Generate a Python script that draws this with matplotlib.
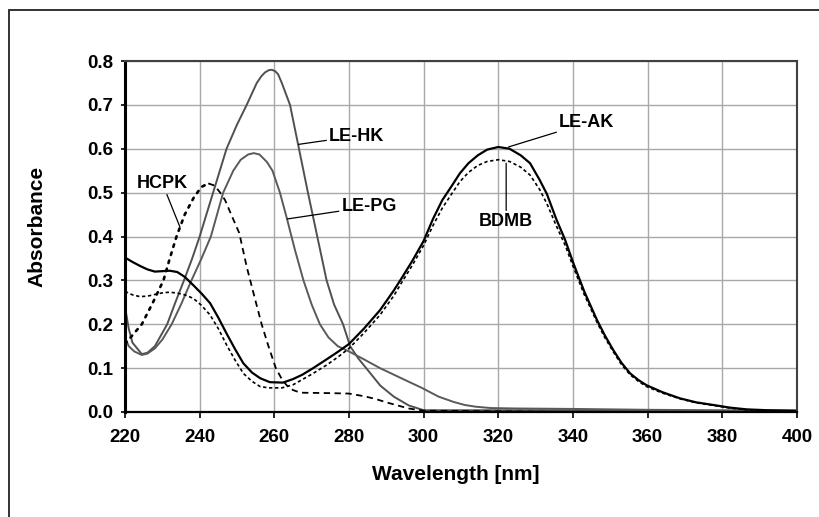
import matplotlib
matplotlib.use("Agg")
import matplotlib.pyplot as plt
from matplotlib.patches import Rectangle

# ---------------- data ----------------
le_hk_wl = [220, 221, 222, 224.5, 226, 228, 231.3, 233.5, 235.8, 238, 240, 243.6, 247.2, 250, 252.6,
            255.3, 256.5, 257.5, 258.5, 259.3, 260.2, 261, 262, 264.2, 266.6, 269, 271.5, 274, 276,
            278.4, 280.3, 282.5, 284.6, 288.4, 292, 296, 300, 320, 340, 360, 380, 400]
le_hk_abs = [0.24, 0.19, 0.158, 0.132, 0.135, 0.15, 0.2, 0.25, 0.3, 0.35, 0.4, 0.5, 0.6, 0.655, 0.7,
             0.75, 0.765, 0.774, 0.779, 0.78, 0.777, 0.77, 0.75, 0.7, 0.6, 0.5, 0.4, 0.3, 0.245,
             0.2, 0.15, 0.122, 0.1, 0.06, 0.035, 0.015, 0.004, 0.004, 0.004, 0.003, 0.002, 0.002]

le_pg_wl = [220, 221, 222.5, 224.5, 226, 228, 230, 232.5, 235, 237.8, 240.5, 243, 246.3, 249, 251,
            253, 254.5, 256, 258, 259.5, 261.5, 263.4, 265.5, 267.8, 270, 272.2, 274.5, 277, 280,
            284, 288.3, 294, 299.5, 304, 308, 311, 314, 318, 325, 340, 360, 400]
le_pg_abs = [0.17, 0.15, 0.138, 0.13, 0.133, 0.145, 0.165, 0.2, 0.245, 0.3, 0.35, 0.4, 0.5, 0.55, 0.575,
             0.587, 0.59, 0.587, 0.57, 0.55, 0.5, 0.44, 0.37, 0.3, 0.245, 0.2, 0.17, 0.15, 0.138,
             0.12, 0.1, 0.077, 0.055, 0.035, 0.023, 0.016, 0.012, 0.009, 0.008, 0.007, 0.005, 0.003]

hcpk_wl = [220, 222, 224.5, 227.5, 230.3, 232, 233.8, 236, 238.5, 240.5, 242.3, 244, 245.5, 246.8,
           248.7, 250.6, 252.6, 254.6, 256.6, 258.5, 260.4, 262, 263.3, 265, 267, 275, 280, 284,
           287, 290, 293, 296, 300, 340, 400]
hcpk_abs = [0.155, 0.175, 0.2, 0.25, 0.3, 0.35, 0.4, 0.45, 0.49, 0.513, 0.521, 0.516, 0.5, 0.483,
            0.445, 0.408, 0.331, 0.265, 0.2, 0.148, 0.1, 0.075, 0.061, 0.05, 0.044, 0.043, 0.042, 0.036,
            0.03, 0.022, 0.015, 0.008, 0.003, 0.0, 0.0]
hcpk_peak_index = 10

le_ak_wl = [220, 222, 224, 226, 228, 230, 232, 234, 236, 238.3, 240.5, 242.8, 245, 247.2, 249.5,
            251.7, 254, 256.2, 258.8, 262.3, 265, 267.5, 270.4, 274, 277, 280, 284, 288.3, 292,
            294.1, 297, 300, 302.5, 305, 307.5, 309.7, 312, 314.5, 317, 320, 323, 326, 328.5, 331,
            333, 335.5, 337.9, 340.1, 343, 346.4, 348.5, 350.8, 353, 355.3, 357.5, 359.7, 364,
            368.7, 373, 377.6, 382, 386.5, 392, 400]
le_ak_abs = [0.352, 0.342, 0.333, 0.325, 0.32, 0.321, 0.322, 0.319, 0.308, 0.289, 0.27, 0.248, 0.215,
             0.179, 0.143, 0.111, 0.09, 0.077, 0.068, 0.067, 0.075, 0.085, 0.1, 0.12, 0.137, 0.155,
             0.19, 0.232, 0.277, 0.305, 0.345, 0.39, 0.44, 0.483, 0.515, 0.544, 0.567, 0.585, 0.598,
             0.604, 0.6, 0.585, 0.567, 0.53, 0.497, 0.44, 0.392, 0.339, 0.275, 0.21, 0.175, 0.141,
             0.112, 0.088, 0.073, 0.061, 0.045, 0.031, 0.022, 0.016, 0.01, 0.006, 0.004, 0.003]

bdmb_wl = [220, 222, 224, 226, 228, 230.3, 232, 234, 236, 238.3, 240.5, 242.8, 245, 247.2, 249.5,
           251.7, 254, 256.2, 258.5, 262, 265, 267.5, 270.4, 274, 277, 280, 284, 288.3, 292, 294.1,
           297, 300, 302.5, 305, 307.5, 309.7, 312, 314.5, 317, 320, 323, 326, 328.5, 331, 333,
           335.5, 337.9, 340.1, 343, 346.4, 348.5, 350.8, 353, 355.3, 357.5, 359.7, 364, 368.7,
           373, 377.6, 382, 386.5, 392, 400]
bdmb_abs = [0.275, 0.267, 0.263, 0.264, 0.268, 0.272, 0.273, 0.271, 0.267, 0.259, 0.243, 0.221, 0.19,
            0.153, 0.118, 0.088, 0.07, 0.058, 0.055, 0.055, 0.062, 0.074, 0.088, 0.107, 0.125, 0.145,
            0.18, 0.221, 0.265, 0.295, 0.335, 0.38, 0.425, 0.465, 0.497, 0.525, 0.546, 0.562, 0.571,
            0.575, 0.571, 0.558, 0.54, 0.508, 0.475, 0.425, 0.38, 0.33, 0.268, 0.205, 0.17, 0.137,
            0.108, 0.085, 0.07, 0.058, 0.043, 0.03, 0.021, 0.015, 0.009, 0.005, 0.003, 0.002]

x_ticks = [220, 240, 260, 280, 300, 320, 340, 360, 380, 400]
y_ticks = [0.0, 0.1, 0.2, 0.3, 0.4, 0.5, 0.6, 0.7, 0.8]

# ---------------- figure ----------------
plt.rcParams['font.family'] = ['Liberation Sans', 'DejaVu Sans']
plt.rcParams['font.weight'] = 'bold'

W, H = 819, 517
fig = plt.figure(figsize=(W / 100, H / 100), dpi=100)
fig.patch.set_facecolor('white')
# outer chart frame (only left and top edges visible)
fig.patches.append(Rectangle((9 / W, -0.05), 1.2, 1 - 10 / H + 0.05,
                             transform=fig.transFigure, fill=False,
                             edgecolor='#222222', linewidth=1.3))

ax = fig.add_axes([125 / W, 1 - 412 / H, (797 - 125) / W, (412 - 61) / H])

ax.plot(le_hk_wl, le_hk_abs, color='#505050', lw=1.4, solid_joinstyle='round')
ax.plot(le_pg_wl, le_pg_abs, color='#5a5a5a', lw=1.4, solid_joinstyle='round')
p = hcpk_peak_index
ax.plot(hcpk_wl[:p + 1], hcpk_abs[:p + 1], color='black', lw=1.9, linestyle=(0, (1.0, 2.2)),
        dash_capstyle='round')
ax.plot(hcpk_wl[p:], hcpk_abs[p:], color='black', lw=1.3, linestyle=(0, (3.5, 2.5)))
ax.plot(bdmb_wl, bdmb_abs, color='black', lw=1.2, linestyle=(0, (2.0, 1.6)))
ax.plot(le_ak_wl, le_ak_abs, color='black', lw=1.6, solid_joinstyle='round')

ax.set_xlim(220, 400)
ax.set_ylim(0, 0.8)
ax.set_xticks(x_ticks)
ax.set_yticks(y_ticks)
ax.set_xticklabels([str(t) for t in x_ticks], fontsize=13.5, fontweight='bold')
ax.set_yticklabels([f"{t:.1f}" for t in y_ticks], fontsize=13.5, fontweight='bold')
ax.grid(True, color='#a8a8a8', lw=1.0)
ax.set_axisbelow(True)
ax.tick_params(axis='x', direction='out', length=4, width=1.2, pad=8, color='black')
ax.tick_params(axis='y', direction='out', length=3, width=1.2, pad=5.5, color='black')

for s in ['top', 'right']:
    ax.spines[s].set_color('#404040')
    ax.spines[s].set_linewidth(1.5)
ax.spines['left'].set_color('black')
ax.spines['left'].set_linewidth(2.2)
ax.spines['bottom'].set_color('black')
ax.spines['bottom'].set_linewidth(1.6)

fig.text(456 / W, 1 - 475 / H, 'Wavelength [nm]', fontsize=15, fontweight='bold',
         ha='center', va='center')
fig.text(37 / W, 1 - 226 / H, 'Absorbance', fontsize=15, fontweight='bold',
         ha='center', va='center', rotation=90)

lead = dict(arrowstyle='-', color='black', lw=0.9, shrinkA=0, shrinkB=0)
fs = 13
ax.annotate('LE-HK', xy=(266.5, 0.61), xytext=(274.7, 0.629), fontsize=fs, fontweight='bold',
            ha='left', va='center', arrowprops=lead)
ax.annotate('LE-PG', xy=(263.5, 0.44), xytext=(278.0, 0.468), fontsize=fs, fontweight='bold',
            ha='left', va='center', arrowprops=lead)
ax.annotate('HCPK', xy=(234.7, 0.422), xytext=(230.0, 0.502), fontsize=fs, fontweight='bold',
            ha='center', va='bottom', arrowprops=lead)
ax.annotate('LE-AK', xy=(322.7, 0.604), xytext=(336.3, 0.659), fontsize=fs, fontweight='bold',
            ha='left', va='center', arrowprops=lead)
ax.annotate('BDMB', xy=(322.1, 0.567), xytext=(322.1, 0.453), fontsize=fs, fontweight='bold',
            ha='center', va='top', arrowprops=lead)

fig.savefig('out.png', dpi=100)
